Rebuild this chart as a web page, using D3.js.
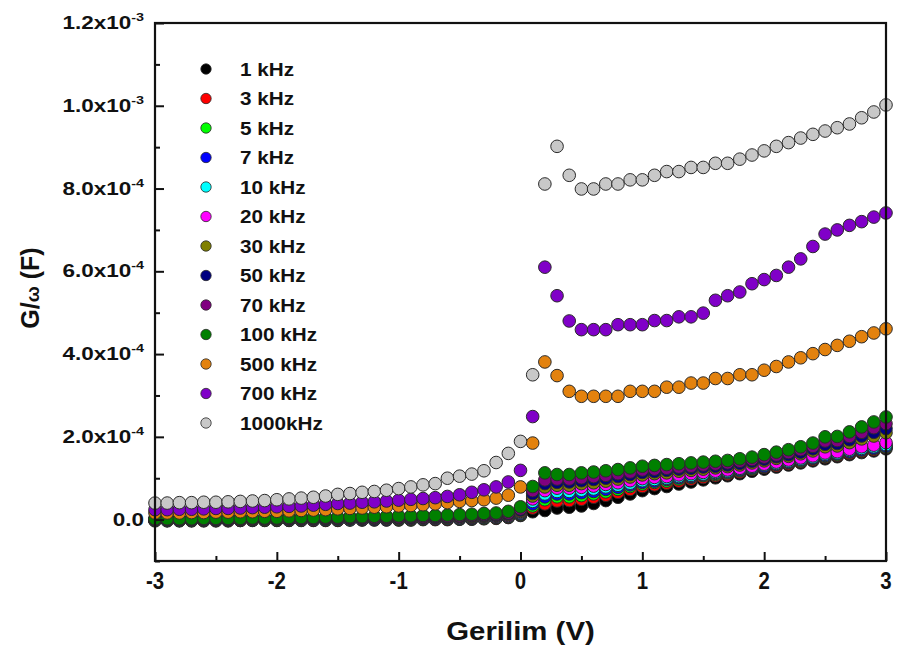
<!DOCTYPE html>
<html>
<head>
<meta charset="utf-8">
<script src="https://cdn.jsdelivr.net/npm/d3@7"></script>
<style>
  html, body { margin: 0; padding: 0; background: #ffffff; }
  svg text { font-family: "Liberation Sans", Arial, sans-serif; font-weight: bold; fill: #111; }
</style>
</head>
<body>
<svg id="chart" width="900" height="653"></svg>
<script>
// Bias sweep: -3 V to +3 V in 0.1 V steps (61 points)
const voltages = d3.range(0, 61).map(i => +(-3 + i * 0.1).toFixed(1));

// G/ω values, in units of 1e-6 F
const UNIT = 1e-6;

const frequencies = ["1 kHz", "3 kHz", "5 kHz", "7 kHz", "10 kHz", "20 kHz", "30 kHz",
                     "50 kHz", "70 kHz", "100 kHz", "500 kHz", "700 kHz", "1000kHz"];
const colors = ["#000000", "#ff0000", "#00ff00", "#0000ff", "#00ffff", "#ff00ff", "#808000",
                "#000080", "#800080", "#008000", "#e3820e", "#8000c8", "#c8c8c8"];

const g1k = [-3,-3,-3,-3,-3,-3,-3,-2,-2,-2, -2,-2,-2,-2,-2,-2,-1,-1,-1,-1, -1,-1,0,0,0,1,1,2,3,5,
  10,19,22,28,30,33,39,46,54,62, 70,75,80,86,91,96,101,106,111,117, 122,127,132,137,142,147,152,157,162,166,171];
const g3k = [-2,-2,-2,-2,-2,-2,-2,-2,-1,-1, -1,-1,-1,-1,-1,-1,0,0,0,0, 0,0,1,1,1,2,2,3,4,6,
  12,28,38,45,46,49,54,59,66,73, 80,84,88,93,98,102,106,110,115,121, 126,130,135,140,145,151,155,160,165,169,174];
const g5k = [-2,-2,-2,-2,-1,-1,-1,-1,-1,-1, -1,-1,-1,0,0,0,0,0,1,1, 1,1,1,2,2,2,3,4,5,7,
  13,33,48,55,55,58,62,67,73,80, 86,90,93,98,102,106,109,113,118,123, 128,133,138,142,148,153,157,163,168,172,176];
const g7k = [-1,-1,-1,-1,-1,-1,-1,-1,-1,0, 0,0,0,0,0,1,1,1,1,1, 2,2,2,2,3,3,4,5,6,8,
  14,38,55,62,62,65,68,73,78,84, 90,93,97,101,104,108,112,115,120,125, 129,134,139,144,149,155,159,164,169,173,178];
const g10k = [-1,-1,-1,-1,0,0,0,0,0,0, 0,0,1,1,1,1,1,2,2,2, 2,3,3,3,4,4,5,6,7,9,
  16,44,62,68,68,71,74,79,83,88, 94,97,100,104,107,110,114,117,122,127, 132,136,141,146,151,158,161,167,172,176,181];
const g20k = [0,0,0,0,0,0,0,0,1,1, 1,1,1,1,2,2,2,2,3,3, 3,3,4,4,5,5,6,7,8,10,
  18,50,70,76,76,78,81,85,89,94, 99,102,104,108,111,114,117,120,124,129, 134,139,144,149,154,161,164,170,176,180,186];
const g30k = [0,0,0,0,1,1,1,1,1,1, 1,2,2,2,2,3,3,3,4,4, 4,5,5,5,6,7,7,8,10,12,
  20,57,79,83,83,87,89,93,98,103, 108,111,113,117,119,122,125,128,132,137, 142,148,153,159,166,176,178,186,195,202,210];
const g50k = [1,1,1,1,1,1,1,2,2,2, 2,2,3,3,3,3,4,4,4,5, 5,5,6,6,7,8,9,10,11,14,
  23,63,87,90,91,94,97,100,104,109, 114,116,119,122,124,127,129,132,136,141, 146,152,157,163,171,182,184,193,202,211,220];
const g70k = [1,1,1,1,2,2,2,2,2,3, 3,3,3,4,4,4,5,5,5,6, 6,7,7,8,8,9,10,12,13,16,
  26,70,96,98,98,101,104,107,111,115, 120,122,124,127,129,132,134,137,141,145, 151,156,162,169,177,190,191,201,211,222,232];
const g100k = [2,2,2,2,3,3,3,3,4,4, 4,5,5,5,6,6,7,7,8,8, 9,9,10,10,11,12,13,15,16,20,
  31,80,113,109,109,113,115,118,121,125, 129,131,133,135,137,139,141,143,147,151, 157,163,169,176,185,200,201,212,224,236,248];
const g500k = [16,16,16,17,17,18,18,19,19,20, 20,21,22,23,24,26,27,28,30,31, 33,34,36,38,41,44,46,48,52,59,
  79,185,381,348,310,298,298,298,298,310, 310,310,320,320,330,330,341,341,350,350, 361,370,381,391,401,411,421,431,442,451,461];
const g700k = [24,24,25,25,26,27,27,28,29,30, 31,32,33,35,37,39,40,42,43,45, 47,49,51,53,56,60,66,72,79,91,
  119,249,610,541,480,459,459,459,471,471, 471,481,481,490,490,499,530,541,550,570, 580,590,610,630,660,690,700,711,720,731,741];
const g1000k = [40,40,41,41,42,42,43,44,45,46, 48,50,52,54,57,61,63,66,68,71, 75,79,84,87,100,105,110,118,138,160,
  189,350,811,902,832,799,799,811,811,821, 821,832,841,841,851,851,861,861,871,881, 891,902,911,922,931,939,947,956,971,985,1002];

const seriesValues = [g1k, g3k, g5k, g7k, g10k, g20k, g30k, g50k, g70k, g100k, g500k, g700k, g1000k];

// Axis ticks
const xTicks = [-3, -2, -1, 0, 1, 2, 3];
const xTickLabels = ["-3", "-2", "-1", "0", "1", "2", "3"];
const xMinorTicks = [-2.5, -1.5, -0.5, 0.5, 1.5, 2.5];
const yTicks = [0, 2e-4, 4e-4, 6e-4, 8e-4, 1e-3, 1.2e-3];
const yTickMantissa = ["0.0", "2.0x10", "4.0x10", "6.0x10", "8.0x10", "1.0x10", "1.2x10"];
const yTickExponent = ["", "-4", "-4", "-4", "-4", "-3", "-3"];
const yMinorTicks = [-1e-4, 1e-4, 3e-4, 5e-4, 7e-4, 9e-4, 1.1e-3];

const svg = d3.select("#chart");
const plot = { left: 155, right: 886, top: 23, bottom: 561 };

const x = d3.scaleLinear().domain([-3, 3]).range([plot.left, plot.right]);
const y = d3.scaleLinear().domain([-1e-4, 1.2e-3]).range([plot.bottom, plot.top]);

// Data points: lowest frequency first, highest frequency drawn on top
const layers = svg.append("g").attr("class", "series");
seriesValues.forEach((vals, si) => {
  layers.append("g")
    .selectAll("circle")
    .data(vals.map((v, i) => ({ v: voltages[i], g: v * UNIT })))
    .join("circle")
    .attr("cx", d => x(d.v))
    .attr("cy", d => y(d.g))
    .attr("r", 6.3)
    .attr("fill", colors[si])
    .attr("stroke", "#2a2a2a")
    .attr("stroke-width", 1);
});

// Axes with inward ticks
const xAxis = svg.append("g").attr("transform", `translate(0,${plot.bottom})`)
  .call(d3.axisBottom(x).tickValues(xTicks).tickSize(-9).tickFormat(() => ""));
const xAxisMinor = svg.append("g").attr("transform", `translate(0,${plot.bottom})`)
  .call(d3.axisBottom(x).tickValues(xMinorTicks).tickSize(-5).tickFormat(() => ""));
const yAxis = svg.append("g").attr("transform", `translate(${plot.left},0)`)
  .call(d3.axisLeft(y).tickValues(yTicks).tickSize(-9).tickFormat(() => ""));
const yAxisMinor = svg.append("g").attr("transform", `translate(${plot.left},0)`)
  .call(d3.axisLeft(y).tickValues(yMinorTicks).tickSize(-5).tickFormat(() => ""));
[xAxis, xAxisMinor, yAxis, yAxisMinor].forEach(a => {
  a.select(".domain").remove();
  a.selectAll(".tick line").attr("stroke", "#111").attr("stroke-width", 2);
});

// Frame
svg.append("rect")
  .attr("x", plot.left).attr("y", plot.top)
  .attr("width", plot.right - plot.left).attr("height", plot.bottom - plot.top)
  .attr("fill", "none").attr("stroke", "#111").attr("stroke-width", 2.2);

// X tick labels
svg.append("g").selectAll("text")
  .data(xTicks)
  .join("text")
  .attr("transform", d => `translate(${x(d)},${plot.bottom + 28}) scale(0.85,1)`)
  .attr("text-anchor", "middle")
  .style("font-size", "24px")
  .text((d, i) => xTickLabels[i]);

// Y tick labels with superscript exponents
const yLab = svg.append("g").selectAll("text")
  .data(yTicks)
  .join("text")
  .attr("transform", d => `translate(${plot.left - 11},${y(d) + 6}) scale(1.25,1)`)
  .attr("text-anchor", "end")
  .style("font-size", "18px");
yLab.append("tspan").text((d, i) => yTickMantissa[i]);
yLab.filter((d, i) => yTickExponent[i] !== "")
  .append("tspan")
  .attr("dy", -8)
  .style("font-size", "11.5px")
  .text(d => yTickExponent[yTicks.indexOf(d)]);

// Axis titles
svg.append("text")
  .attr("transform", `translate(${(plot.left + plot.right) / 2},640) scale(1.13,1)`)
  .attr("text-anchor", "middle")
  .style("font-size", "26px")
  .text("Gerilim (V)");

const yTitle = svg.append("text")
  .attr("transform", `translate(39,288) rotate(-90)`)
  .attr("text-anchor", "middle")
  .style("font-size", "25px");
yTitle.append("tspan").text("G/");
yTitle.append("tspan").style("font-size", "19px").text("ω");
yTitle.append("tspan").text(" (F)");

// Legend
const legend = svg.append("g");
const legendRows = legend.selectAll("g")
  .data(frequencies)
  .join("g")
  .attr("transform", (d, i) => `translate(206,${69 + i * 29.5})`);
legendRows.append("circle")
  .attr("r", 5.2)
  .attr("fill", (d, i) => colors[i])
  .attr("stroke", "#2a2a2a")
  .attr("stroke-width", 0.8);
legendRows.append("text")
  .attr("transform", "translate(34,6.5) scale(1.15,1)")
  .style("font-size", "18px")
  .text(d => d);
</script>
</body>
</html>
